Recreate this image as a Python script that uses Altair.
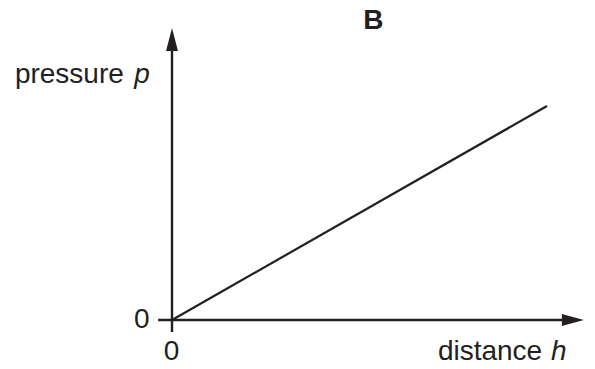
import altair as alt
import pandas as pd

# ---- data (arbitrary units: origin at 0, end of the line at 1) ----
line_h = [0.0, 1.0]
line_p = [0.0, 1.0]

# axis extents
xaxis_h = [-0.037, 1.069]
xaxis_p = [0.0, 0.0]
yaxis_h = [0.0, 0.0]
yaxis_p = [-0.056, 1.311]

# arrowheads (centres)
xarrow_h, xarrow_p = [1.069], [0.0]
yarrow_h, yarrow_p = [0.0], [1.311]

# labels
title_text, title_h, title_p = ["B"], [0.537], [1.36]
plain_text = ["pressure", "distance"]
plain_h = [-0.419, 0.709]
plain_p = [1.107, -0.185]
ital_text = ["p", "h"]
ital_h = [-0.101, 1.0107]
ital_p = [1.107, -0.185]
zero_text = ["0", "0"]
zero_h = [-0.06, -0.0013]
zero_p = [-0.0374, -0.185]
zero_align = ["right", "center"]

INK = "#231f20"
FONT = "Liberation Sans"
FS = 28

xs = alt.Scale(domain=[0, 1], range=[164, 539], nice=False, zero=False)
ys = alt.Scale(domain=[0, 1], range=[312, 98], nice=False, zero=False)


def X():
    return alt.X("h:Q", scale=xs, axis=None)


def Y():
    return alt.Y("p:Q", scale=ys, axis=None)


line = alt.Chart(pd.DataFrame({"h": line_h, "p": line_p})).mark_line(
    color=INK, strokeWidth=2.2).encode(x=X(), y=Y())

xaxis = alt.Chart(pd.DataFrame({"h": xaxis_h, "p": xaxis_p})).mark_line(
    color=INK, strokeWidth=2.4).encode(x=X(), y=Y())
yaxis = alt.Chart(pd.DataFrame({"h": yaxis_h, "p": yaxis_p})).mark_line(
    color=INK, strokeWidth=2.4).encode(x=X(), y=Y(), order=alt.Order("p:Q"))

xarrow = alt.Chart(pd.DataFrame({"h": xarrow_h, "p": xarrow_p})).mark_point(
    shape="M1,0L-1,-0.545L-1,0.545Z", size=484, filled=True, opacity=1,
    color=INK, strokeWidth=0).encode(x=X(), y=Y())
yarrow = alt.Chart(pd.DataFrame({"h": yarrow_h, "p": yarrow_p})).mark_point(
    shape="M0,-1L0.52,1L-0.52,1Z", size=529, filled=True, opacity=1,
    color=INK, strokeWidth=0).encode(x=X(), y=Y())

title = alt.Chart(pd.DataFrame({"h": title_h, "p": title_p, "t": title_text})).mark_text(
    font=FONT, fontSize=FS, fontWeight="bold", color=INK, align="center",
    baseline="alphabetic").encode(x=X(), y=Y(), text="t:N")

plain = alt.Chart(pd.DataFrame({"h": plain_h, "p": plain_p, "t": plain_text})).mark_text(
    font=FONT, fontSize=FS, color=INK, align="left",
    baseline="alphabetic").encode(x=X(), y=Y(), text="t:N")

ital = alt.Chart(pd.DataFrame({"h": ital_h, "p": ital_p, "t": ital_text})).mark_text(
    font=FONT, fontSize=FS, fontStyle="italic", color=INK, align="left",
    baseline="alphabetic").encode(x=X(), y=Y(), text="t:N")

zeros_df = pd.DataFrame({"h": zero_h, "p": zero_p, "t": zero_text, "a": zero_align})
zero_left = alt.Chart(zeros_df).transform_filter("datum.a == 'right'").mark_text(
    font=FONT, fontSize=FS, color=INK, align="right",
    baseline="alphabetic").encode(x=X(), y=Y(), text="t:N")
zero_bottom = alt.Chart(zeros_df).transform_filter("datum.a == 'center'").mark_text(
    font=FONT, fontSize=FS, color=INK, align="center",
    baseline="alphabetic").encode(x=X(), y=Y(), text="t:N")

chart = alt.layer(
    xaxis, yaxis, line, xarrow, yarrow, title, plain, ital, zero_left, zero_bottom
).properties(
    width=579, height=353,
    autosize=alt.AutoSizeParams(type="none"),
    padding=0,
    background="white",
).configure_view(stroke=None)

chart.save("out.html", embed_options={"renderer": "svg", "actions": False})
